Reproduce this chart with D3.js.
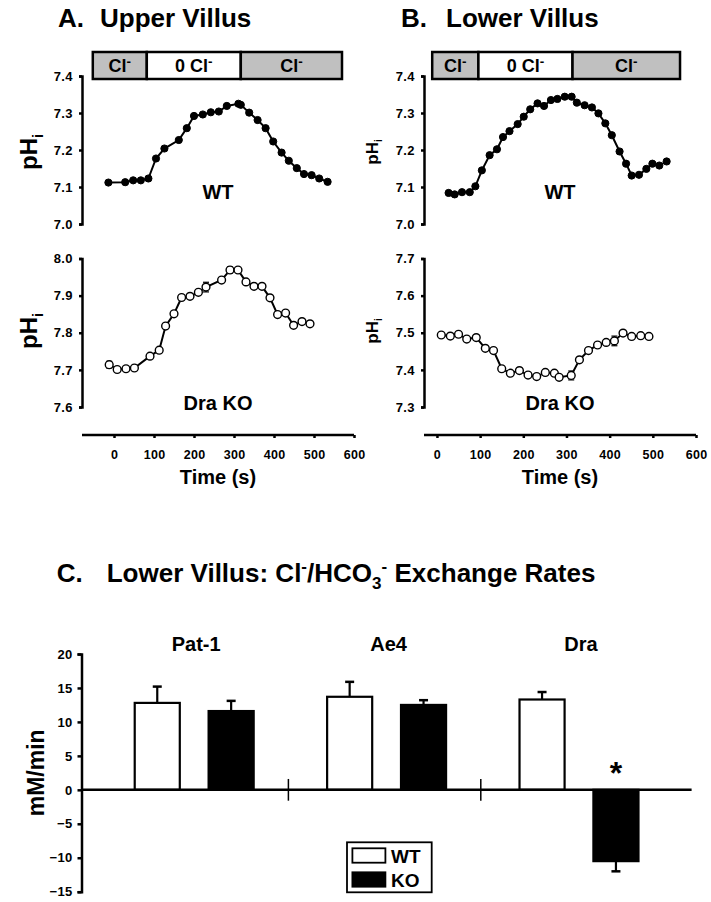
<!DOCTYPE html>
<html><head><meta charset="utf-8">
<script src="https://cdn.jsdelivr.net/npm/d3@7"></script>
<style>
body{margin:0;background:#fff;}
text{font-family:"Liberation Sans",Arial,sans-serif;font-weight:bold;fill:#000;}
</style></head>
<body><svg id="c" width="711" height="902"></svg>
<script>
// ---------- DATA ----------
const timeAwt = [-14, 28, 48, 67, 86, 105, 126, 162, 182, 200, 222, 242, 262, 282, 311, 317, 338, 359, 379, 398, 419, 437, 457, 475, 494, 513, 534];
const phAwt = [7.112, 7.113, 7.118, 7.118, 7.123, 7.177, 7.204, 7.227, 7.259, 7.292, 7.296, 7.302, 7.304, 7.319, 7.325, 7.322, 7.301, 7.281, 7.259, 7.223, 7.193, 7.171, 7.151, 7.135, 7.132, 7.123, 7.114];
const errAwt = [0.003,0.002,0.002,0.002,0.003,0.003,0.003,0.003,0.003,0.003,0.003,0.003,0.003,0.003,0.003,0.003,0.003,0.003,0.003,0.003,0.003,0.003,0.003,0.003,0.003,0.003,0.003];

const timeAko = [-12, 8, 30, 51, 90, 113, 129, 150, 169, 190, 211, 230, 269, 290, 310, 330, 350, 370, 390, 409, 429, 449, 470, 490];
const phAko = [7.714, 7.701, 7.703, 7.705, 7.737, 7.753, 7.818, 7.851, 7.895, 7.898, 7.909, 7.923, 7.942, 7.969, 7.969, 7.937, 7.925, 7.925, 7.894, 7.849, 7.853, 7.820, 7.830, 7.824];
const errAko = [0.009,0.003,0.003,0.004,0.005,0.004,0.005,0.004,0.004,0.005,0.004,0.013,0.006,0.009,0.006,0.004,0.004,0.007,0.004,0.004,0.004,0.003,0.003,0.003];

const timeBwt = [27, 41, 58, 76, 89, 104, 122, 139, 153, 168, 187, 201, 216, 233, 248, 264, 279, 296, 312, 324, 342, 359, 374, 390, 405, 423, 438, 451, 468, 485, 499, 515, 532];
const phBwt = [7.084, 7.080, 7.086, 7.086, 7.102, 7.145, 7.186, 7.202, 7.235, 7.251, 7.270, 7.290, 7.310, 7.326, 7.319, 7.335, 7.338, 7.344, 7.344, 7.328, 7.321, 7.315, 7.299, 7.272, 7.240, 7.196, 7.163, 7.131, 7.133, 7.149, 7.163, 7.158, 7.169];
const errBwt = phBwt.map(() => 0.003);

const timeBko = [10, 31, 50, 69, 91, 112, 131, 150, 170, 191, 211, 231, 251, 272, 283, 311, 330, 351, 372, 392, 411, 431, 451, 472, 491];
const phBko = [7.494, 7.491, 7.496, 7.483, 7.487, 7.458, 7.452, 7.403, 7.391, 7.398, 7.386, 7.382, 7.393, 7.391, 7.380, 7.385, 7.427, 7.452, 7.467, 7.474, 7.478, 7.499, 7.490, 7.492, 7.490];
const errBko = [0.003,0.003,0.003,0.003,0.003,0.003,0.003,0.003,0.003,0.003,0.003,0.003,0.004,0.006,0.003,0.012,0.003,0.003,0.003,0.003,0.013,0.003,0.003,0.003,0.003];

// solution periods (s)
const solLabels = ["Cl", "0 Cl", "Cl"];
const solA = [-53, 82, 317, 570];
const solB = [-11, 96, 314, 563];

const timeTicks = [0, 100, 200, 300, 400, 500, 600];
const ticksWt = [7.0, 7.1, 7.2, 7.3, 7.4];
const ticksAko = [7.6, 7.7, 7.8, 7.9, 8.0];
const ticksBko = [7.3, 7.4, 7.5, 7.6, 7.7];

// bar chart
const genes = ["Pat-1", "Ae4", "Dra"];
const groups = ["WT", "KO"];
const wtRate = [12.8, 13.7, 13.3];
const koRate = [11.6, 12.5, -10.5];
const wtErr = [2.4, 2.2, 1.1];
const koErr = [1.5, 0.7, 1.5];
const rateTicks = [20, 15, 10, 5, 0, -5, -10, -15];
const sigGenes = ["Dra"];

// ---------- DRAW ----------
const svg = d3.select("#c");

function addPH(g, x, y, size) {
  const t = g.append("text").attr("transform", `translate(${x},${y}) rotate(-90)`)
    .attr("text-anchor", "middle").attr("font-size", size);
  t.append("tspan").text("pH");
  t.append("tspan").attr("font-size", size * 0.6).attr("dy", size * 0.25).text("i");
}
function clText(sel, label, size) {
  sel.append("tspan").text(label);
  sel.append("tspan").attr("font-size", size * 0.75).attr("dy", -size * 0.35).text("-");
}

function panel(opt) {
  const g = svg.append("g");
  const x = d3.scaleLinear().domain(opt.xDom).range(opt.xRange);
  g.append("text").attr("x", opt.titleX).attr("y", 27).attr("font-size", 26).text(opt.letter);
  g.append("text").attr("x", opt.titleX2).attr("y", 27).attr("font-size", 26).text(opt.title);

  const sb = g.append("g");
  for (let i = 0; i < solLabels.length; i++) {
    const x0 = x(opt.sol[i]), x1 = x(opt.sol[i + 1]);
    sb.append("rect").attr("x", x0).attr("y", 52).attr("width", x1 - x0).attr("height", 27)
      .attr("fill", i === 1 ? "#fff" : "#c0c0c0").attr("stroke", "#000").attr("stroke-width", 2.5);
    const t = sb.append("text").attr("x", (x0 + x1) / 2).attr("y", 72).attr("text-anchor", "middle").attr("font-size", 18);
    clText(t, solLabels[i], 18);
  }

  function sub(y, times, vals, errs, filled, label, labelY, phSize, phY) {
    const sg = g.append("g");
    const ax = sg.append("g").attr("transform", `translate(${opt.xRange[0]},0)`)
      .call(d3.axisLeft(y).tickValues(y.ticksVals).tickFormat(d3.format(".1f")).tickSize(3).tickPadding(6));
    ax.select(".domain").attr("stroke-width", 2.5);
    ax.selectAll(".tick line").attr("stroke-width", 2.5);
    ax.selectAll(".tick text").attr("font-size", 13).attr("letter-spacing", 0.4).style("font-weight", "bold");
    const data = times.map((t, i) => ({ t, v: vals[i], e: errs[i] }));
    sg.append("path").datum(data).attr("fill", "none").attr("stroke", "#000").attr("stroke-width", 2)
      .attr("d", d3.line().x(d => x(d.t)).y(d => y(d.v)));
    const eb = sg.selectAll(".eb").data(data).enter().append("g");
    eb.append("line").attr("x1", d => x(d.t)).attr("x2", d => x(d.t))
      .attr("y1", d => y(d.v - d.e)).attr("y2", d => y(d.v + d.e)).attr("stroke", "#000").attr("stroke-width", 1.2);
    [1, -1].forEach(s => {
      eb.append("line").attr("x1", d => x(d.t) - 3).attr("x2", d => x(d.t) + 3)
        .attr("y1", d => y(d.v + s * d.e)).attr("y2", d => y(d.v + s * d.e)).attr("stroke", "#000").attr("stroke-width", 1.2);
    });
    sg.selectAll(".pt").data(data).enter().append("circle")
      .attr("cx", d => x(d.t)).attr("cy", d => y(d.v)).attr("r", filled ? 3.6 : 3.9)
      .attr("fill", filled ? "#000" : "#fff").attr("stroke", "#000").attr("stroke-width", filled ? 1 : 1.4);
    sg.append("text").attr("x", opt.labelX).attr("y", labelY).attr("text-anchor", "middle").attr("font-size", 20).text(label);
    addPH(sg, opt.phX, phY, phSize);
  }

  const yW = d3.scaleLinear().domain([7.0, 7.4]).range([224, 76]); yW.ticksVals = ticksWt;
  const yK = d3.scaleLinear().domain(opt.koDom).range([407, 258.5]); yK.ticksVals = opt.koTicks;
  sub(yW, opt.wt.t, opt.wt.v, opt.wt.e, true, "WT", 198.5, opt.phSize, 152);
  sub(yK, opt.ko.t, opt.ko.v, opt.ko.e, false, "Dra KO", 410, opt.phSize, opt.phY2);

  const xa = g.append("g").attr("transform", "translate(0,435)")
    .call(d3.axisBottom(x).tickValues(timeTicks).tickSize(3).tickPadding(12));
  xa.select(".domain").attr("stroke-width", 2.5).attr("d", `M${opt.xRange[0]},0H${opt.xRange[1]}`);
  xa.selectAll(".tick line").attr("stroke-width", 2.5);
  xa.selectAll(".tick text").attr("font-size", 12.5).attr("letter-spacing", 0.3).style("font-weight", "bold");
  g.append("text").attr("x", opt.labelX).attr("y", 483.5).attr("text-anchor", "middle").attr("font-size", 20).text("Time (s)");
}

panel({
  letter: "A.", title: "Upper Villus", titleX: 58, titleX2: 100,
  xDom: [-80, 600], xRange: [82, 354], sol: solA,
  wt: { t: timeAwt, v: phAwt, e: errAwt }, ko: { t: timeAko, v: phAko, e: errAko },
  koDom: [7.6, 8.0], koTicks: ticksAko, labelX: 218, phX: 37, phSize: 24, phY2: 331
});
panel({
  letter: "B.", title: "Lower Villus", titleX: 401, titleX2: 446,
  xDom: [-30, 600], xRange: [424, 696], sol: solB,
  wt: { t: timeBwt, v: phBwt, e: errBwt }, ko: { t: timeBko, v: phBko, e: errBko },
  koDom: [7.3, 7.7], koTicks: ticksBko, labelX: 560, phX: 378, phSize: 17, phY2: 331
});

// ---------- PANEL C ----------
const gc = svg.append("g");
gc.append("text").attr("x", 56.7).attr("y", 581.7).attr("font-size", 26).text("C.");
const ct = gc.append("text").attr("x", 0).attr("y", 0).attr("font-size", 26);
ct.append("tspan").text("Lower Villus:  Cl");
ct.append("tspan").attr("font-size", 17).attr("dy", -10).text("-");
ct.append("tspan").attr("dy", 10).text("/HCO");
ct.append("tspan").attr("font-size", 17).attr("dy", 7).text("3");
ct.append("tspan").attr("font-size", 17).attr("dy", -17).text("-");
ct.append("tspan").attr("dy", 10).text(" Exchange Rates");
const bw = ct.node().getBBox().width;
ct.attr("transform", `translate(106.7,581.7) scale(${489 / bw},1)`);

const y = d3.scaleLinear().domain([-15, 20]).range([891.7, 654]);
const x0 = d3.scaleBand().domain(genes).range([98, 675.2]).padding(0);
const x1 = d3.scaleBand().domain(groups).range([0, x0.bandwidth()]).paddingInner(0.39).paddingOuter(0.497);

const ya = gc.append("g").attr("transform", "translate(81.5,0)")
  .call(d3.axisLeft(y).tickValues(rateTicks).tickSize(4).tickPadding(5));
ya.select(".domain").attr("stroke-width", 2.5);
ya.selectAll(".tick line").attr("stroke-width", 2.5);
ya.selectAll(".tick text").attr("font-size", 13).attr("letter-spacing", 0.3).style("font-weight", "bold");

gc.append("text").attr("transform", `translate(44,${y(2.5)}) rotate(-90)`).attr("text-anchor", "middle")
  .attr("font-size", 23).text("mM/min");

const bars = [];
genes.forEach((gname, i) => {
  bars.push({ gene: gname, grp: "WT", v: wtRate[i], e: wtErr[i] });
  bars.push({ gene: gname, grp: "KO", v: koRate[i], e: koErr[i] });
});
const bx = d => x0(d.gene) + x1(d.grp);
const bc = d => bx(d) + x1.bandwidth() / 2;
const etop = d => y(d.v + Math.sign(d.v) * d.e);
const ebs = gc.selectAll(".be").data(bars).enter().append("g");
ebs.append("line").attr("x1", bc).attr("x2", bc).attr("y1", d => y(d.v)).attr("y2", etop)
  .attr("stroke", "#000").attr("stroke-width", 2.2);
ebs.append("line").attr("x1", d => bc(d) - 4.5).attr("x2", d => bc(d) + 4.5).attr("y1", etop).attr("y2", etop)
  .attr("stroke", "#000").attr("stroke-width", 2.5);
gc.selectAll(".bar").data(bars).enter().append("rect")
  .attr("x", bx).attr("width", x1.bandwidth())
  .attr("y", d => y(Math.max(0, d.v))).attr("height", d => Math.abs(y(d.v) - y(0)))
  .attr("fill", d => d.grp === "WT" ? "#fff" : "#000").attr("stroke", "#000").attr("stroke-width", 2.2);

// zero line
gc.append("line").attr("x1", 81.5).attr("x2", 691.6).attr("y1", y(0)).attr("y2", y(0)).attr("stroke", "#000").attr("stroke-width", 2.5);
// separators
genes.slice(1).forEach(gname => {
  gc.append("line").attr("x1", x0(gname) - 2).attr("x2", x0(gname) - 2).attr("y1", y(1.6)).attr("y2", y(-1.6))
    .attr("stroke", "#000").attr("stroke-width", 1.5);
});
// gene labels
gc.selectAll(".gl").data(genes).enter().append("text")
  .attr("x", d => x0(d) + x0.bandwidth() / 2 + 2).attr("y", 650.7).attr("text-anchor", "middle").attr("font-size", 20)
  .text(d => d);
// significance
sigGenes.forEach(gname => {
  const d = bars.find(b => b.gene === gname && b.grp === "KO");
  gc.append("text").attr("x", bc(d)).attr("y", 784).attr("text-anchor", "middle")
    .attr("font-size", 32).text("*");
});

// legend
const lg = gc.append("g");
lg.append("rect").attr("x", 347).attr("y", 842.3).attr("width", 84.7).attr("height", 50).attr("fill", "#fff").attr("stroke", "#000").attr("stroke-width", 1.8);
groups.forEach((gname, i) => {
  lg.append("rect").attr("x", 352.4).attr("y", 848.3 + i * 24).attr("width", 33).attr("height", 14.4)
    .attr("fill", gname === "WT" ? "#fff" : "#000").attr("stroke", "#000").attr("stroke-width", 1.8);
  lg.append("text").attr("x", 391).attr("y", 862.5 + i * 24).attr("font-size", 19).text(gname);
});
</script></body></html>
